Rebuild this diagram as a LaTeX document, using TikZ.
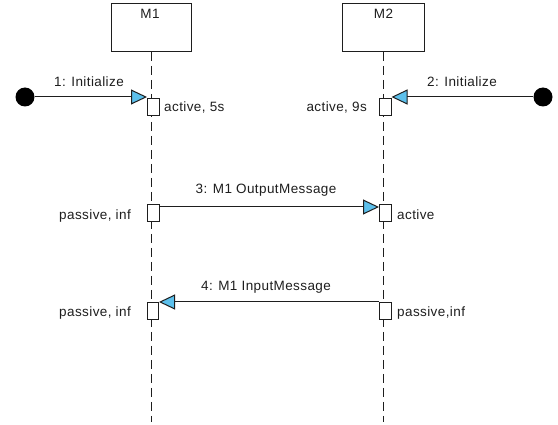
\documentclass[tikz,border=0pt]{standalone}
\usepackage{fontspec}
\setmainfont{Liberation Sans}[LetterSpace=3]
\usetikzlibrary{arrows.meta}
\definecolor{tipblue}{RGB}{92,192,236}
\definecolor{ink}{RGB}{30,30,30}
\begin{document}
\begin{tikzpicture}[x=1pt,y=-1pt,
  every node/.style={font=\fontsize{13.5}{15}\selectfont, text=ink},
  head/.style={draw=ink, line width=1pt, fill=white, minimum height=48pt, inner sep=0pt, anchor=north},
  lifeline/.style={draw=ink, line width=1.1pt, dash pattern=on 9pt off 5pt},
  actbox/.style={draw=ink, line width=1pt, fill=white, minimum width=11.5pt, minimum height=17pt, inner sep=0pt, anchor=north west},
  startdot/.style={circle, fill=black, minimum size=19pt, inner sep=0pt},
  msg/.style={draw=ink, line width=1pt, -{Triangle[length=16pt, width=15pt, fill=tipblue]}},
  lbl/.style={inner sep=0pt}
]
\useasboundingbox (0,0) rectangle (558,425);

% lifeline heads
\node[head, minimum width=80pt] (m1) at (151.5,3) {};
\node[anchor=north, lbl] (m1t) at (150,9) {M1};
\node[head, minimum width=82pt] (m2) at (383.5,3) {};
\node[anchor=north, lbl] (m2t) at (383.5,9) {M2};

% lifeline ends
\coordinate (e1) at (151.5,422);
\coordinate (e2) at (383.5,422);
\draw[lifeline] (m1.south) -- (e1);
\draw[lifeline] (m2.south) -- (e2);

% activation boxes
\node[actbox] (a1) at (147,98) {};
\node[actbox] (a2) at (379,98) {};
\node[actbox] (a3) at (147,204) {};
\node[actbox] (a4) at (379,204) {};
\node[actbox] (a5) at (146.5,302) {};
\node[actbox] (a6) at (379,302) {};

% start dots
\node[startdot] (c1) at (25,97) {};
\node[startdot] (c2) at (543,97) {};

% messages
\draw[msg] (c1) -- (c1 -| a1.west);
\draw[msg] (c2) -- (c2 -| a2.east);
\draw[msg] ([yshift=-3pt]a3.north east) -- ([yshift=-3pt]a4.north west);
\draw[msg] (a6.north west) -- (a5.north east);

% message labels
\node[lbl] (l1) at (89,82) {1: Initialize};
\node[lbl] (l2) at (462,82) {2: Initialize};
\node[lbl] (l3) at (266,190) {3: M1 OutputMessage};
\node[lbl] (l4) at (266,287) {4: M1 InputMessage};

% state labels
\node[lbl, anchor=west] (s1) at (164,107) {active, 5s};
\node[lbl, anchor=east] (s2) at (367,107) {active, 9s};
\node[lbl, anchor=east] (s3) at (131,216) {passive, inf};
\node[lbl, anchor=west] (s4) at (397,215) {active};
\node[lbl, anchor=east] (s5) at (131,313) {passive, inf};
\node[lbl, anchor=west] (s6) at (397,313) {passive,inf};
\end{tikzpicture}
\end{document}
